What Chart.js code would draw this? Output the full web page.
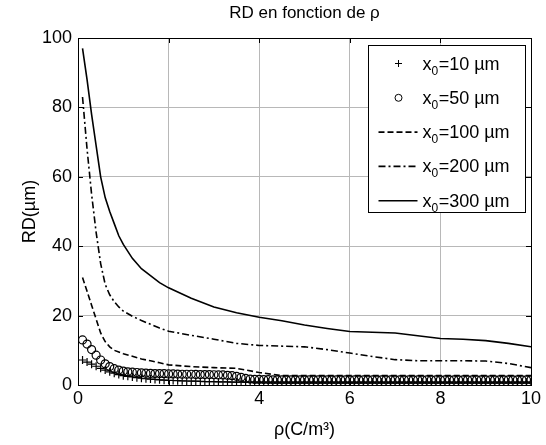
<!DOCTYPE html>
<html>
<head>
<meta charset="utf-8">
<script src="https://cdn.jsdelivr.net/npm/chart.js@4.4.1/dist/chart.umd.min.js"></script>
<style>
  html, body { margin: 0; padding: 0; background: #fff; }
  #wrap { width: 546px; height: 445px; }
</style>
</head>
<body>
<div id="wrap"><canvas id="graph" width="546" height="445"></canvas></div>
<script>
// rho values (C/m^3)
const rho = [0.1,0.2,0.3,0.4,0.5,0.6,0.7,0.8,0.9,1.0,
  1.1,1.2,1.3,1.4,1.5,1.6,1.7,1.8,1.9,2.0,
  2.1,2.2,2.3,2.4,2.5,2.6,2.7,2.8,2.9,3.0,
  3.1,3.2,3.3,3.4,3.5,3.6,3.7,3.8,3.9,4.0,
  4.1,4.2,4.3,4.4,4.5,4.6,4.7,4.8,4.9,5.0,
  5.1,5.2,5.3,5.4,5.5,5.6,5.7,5.8,5.9,6.0,
  6.1,6.2,6.3,6.4,6.5,6.6,6.7,6.8,6.9,7.0,
  7.1,7.2,7.3,7.4,7.5,7.6,7.7,7.8,7.9,8.0,
  8.1,8.2,8.3,8.4,8.5,8.6,8.7,8.8,8.9,9.0,
  9.1,9.2,9.3,9.4,9.5,9.6,9.7,9.8,9.9,10.0];

// x0 = 10 um (+)
const rd10 = [7.2,6.6,6.0,5.4,4.8,4.3,3.8,3.4,3.0,2.7,
  2.5,2.3,2.1,1.95,1.8,1.7,1.6,1.5,1.4,1.35,
  1.3,1.25,1.2,1.15,1.1,1.1,1.05,1.0,1.0,0.95,
  0.9,0.9,0.9,0.85,0.85,0.85,0.8,0.8,0.8,0.8,
  0.8,0.8,0.8,0.8,0.8,0.8,0.8,0.8,0.8,0.8,
  0.8,0.8,0.8,0.8,0.8,0.8,0.8,0.8,0.8,0.8,
  0.8,0.8,0.8,0.8,0.8,0.8,0.8,0.8,0.8,0.8,
  0.8,0.8,0.8,0.8,0.8,0.8,0.8,0.8,0.8,0.8,
  0.8,0.8,0.8,0.8,0.8,0.8,0.8,0.8,0.8,0.8,
  0.8,0.8,0.8,0.8,0.8,0.8,0.8,0.8,0.8,0.8];

// x0 = 50 um (o)
const rd50 = [13.0,11.8,10.2,8.6,7.2,6.1,5.3,4.7,4.3,4.0,
  3.8,3.7,3.6,3.5,3.4,3.35,3.3,3.3,3.25,3.2,
  3.2,3.15,3.1,3.1,3.1,3.05,3.0,3.0,3.0,2.95,
  2.9,2.9,2.8,2.7,2.5,2.2,1.9,1.7,1.6,1.6,
  1.55,1.55,1.5,1.5,1.5,1.5,1.5,1.5,1.5,1.5,
  1.5,1.5,1.5,1.5,1.5,1.5,1.5,1.5,1.5,1.5,
  1.5,1.5,1.5,1.5,1.5,1.5,1.5,1.5,1.5,1.5,
  1.5,1.5,1.5,1.5,1.5,1.5,1.5,1.5,1.5,1.5,
  1.5,1.5,1.5,1.5,1.5,1.5,1.5,1.5,1.5,1.5,
  1.5,1.5,1.5,1.5,1.5,1.5,1.5,1.5,1.5,1.5];

// coarser rho for the line series
const rhoLine = [0.1,0.2,0.3,0.4,0.5,0.6,0.7,0.8,0.9,1,1.2,1.4,1.6,1.8,2,2.5,3,3.5,4,4.5,5,5.5,6,6.5,7,7.5,8,8.5,9,9.5,10];
const rd100 = [31,27,23,19,15,12.5,11,10,9.5,9,8.3,7.5,7,6.4,5.8,5.3,5,4.8,3.6,2.7,2.7,2.7,2.7,2.7,2.7,2.7,2.7,2.7,2.7,2.7,2.7];
const rd200 = [83,68,55,44,35,29,26,24,22.5,21.3,19.8,18.6,17.5,16.4,15.5,14.3,13.2,12,11.4,11.2,11,10.2,9.2,8.2,7.3,7,7,7,6.9,6.2,5];
const rd300 = [97,88,78,69,60,54,50,46.5,43,40.5,36.5,33.5,31.5,29.5,28,25,22.5,20.8,19.5,18.5,17.3,16.3,15.4,15.2,15,14.2,13.4,13.2,12.8,12,11];

const seriesLabels = ['=10 µm', '=50 µm', '=100 µm', '=200 µm', '=300 µm'];
const xTicks = [0, 2, 4, 6, 8, 10];
const yTicks = [0, 20, 40, 60, 80, 100];

const FONT = '"Liberation Sans", Arial, sans-serif';

function pts(xs, ys) { return xs.map((x, i) => ({x: x, y: ys[i]})); }

const datasets = [
  { label: seriesLabels[0], data: pts(rho, rd10), showLine: false, pointStyle: 'cross',
    pointRadius: 4, borderColor: '#000', borderWidth: 1.2, order: 4 },
  { label: seriesLabels[1], data: pts(rho, rd50), showLine: false, pointStyle: 'circle',
    pointRadius: 4, borderColor: '#000', backgroundColor: 'rgba(0,0,0,0)', borderWidth: 1.2, order: 3 },
  { label: seriesLabels[2], data: pts(rhoLine, rd100), borderColor: '#000', borderWidth: 1.6,
    borderDash: [6, 3], pointRadius: 0, order: 2 },
  { label: seriesLabels[3], data: pts(rhoLine, rd200), borderColor: '#000', borderWidth: 1.6,
    borderDash: [7, 3, 2, 3], pointRadius: 0, order: 1 },
  { label: seriesLabels[4], data: pts(rhoLine, rd300), borderColor: '#000', borderWidth: 1.6,
    pointRadius: 0, order: 0 }
];

// title, axes box, inward ticks and the boxed legend, MATLAB style
const matlabLook = {
  id: 'matlabLook',
  afterDraw(chart) {
    const ctx = chart.ctx;
    const ca = chart.chartArea;
    const xs = chart.scales.x, ys = chart.scales.y;
    ctx.save();
    ctx.fillStyle = '#000';
    ctx.font = '17px ' + FONT;
    ctx.textAlign = 'center';
    ctx.textBaseline = 'middle';
    ctx.fillText('RD en fonction de ρ', (ca.left + ca.right) / 2, 13);

    ctx.strokeStyle = '#000';
    ctx.lineWidth = 1;
    ctx.setLineDash([]);
    ctx.beginPath();
    xTicks.forEach(v => {
      const px = Math.round(xs.getPixelForValue(v)) + 0.5;
      ctx.moveTo(px, ca.bottom); ctx.lineTo(px, ca.bottom - 5);
      ctx.moveTo(px, ca.top); ctx.lineTo(px, ca.top + 5);
    });
    yTicks.forEach(v => {
      const py = Math.round(ys.getPixelForValue(v)) + 0.5;
      ctx.moveTo(ca.left, py); ctx.lineTo(ca.left + 5, py);
      ctx.moveTo(ca.right, py); ctx.lineTo(ca.right - 5, py);
    });
    ctx.stroke();
    ctx.strokeRect(Math.round(ca.left) + 0.5, Math.round(ca.top) + 0.5,
      Math.round(ca.right - ca.left), Math.round(ca.bottom - ca.top));

    // legend
    const lx = Math.round(ca.right) - 163 + 0.5, ly = Math.round(ca.top) + 7 + 0.5;
    const lw = 157, lh = 167;
    ctx.fillStyle = '#fff';
    ctx.fillRect(lx, ly, lw, lh);
    ctx.strokeRect(lx, ly, lw, lh);
    chart.data.datasets.forEach((ds, i) => {
      const cy = ly + 18 + i * 34.3;
      ctx.strokeStyle = '#000';
      ctx.lineWidth = ds.showLine === false ? 1 : 1.6;
      if (ds.showLine === false) {
        ctx.setLineDash([]);
        ctx.beginPath();
        if (ds.pointStyle === 'cross') {
          ctx.moveTo(lx + 30 - 3.5, cy); ctx.lineTo(lx + 30 + 3.5, cy);
          ctx.moveTo(lx + 30, cy - 3.5); ctx.lineTo(lx + 30, cy + 3.5);
        } else {
          ctx.arc(lx + 30, cy, 3.5, 0, Math.PI * 2);
        }
        ctx.stroke();
      } else {
        ctx.setLineDash(ds.borderDash || []);
        ctx.beginPath();
        ctx.moveTo(lx + 10, cy); ctx.lineTo(lx + 49, cy);
        ctx.stroke();
      }
      ctx.setLineDash([]);
      ctx.fillStyle = '#000';
      ctx.textAlign = 'left';
      ctx.textBaseline = 'alphabetic';
      ctx.font = '18px ' + FONT;
      let tx = lx + 54;
      ctx.fillText('x', tx, cy + 6);
      tx += ctx.measureText('x').width;
      ctx.font = '12px ' + FONT;
      ctx.fillText('0', tx, cy + 11);
      tx += ctx.measureText('0').width + 0.5;
      ctx.font = '18px ' + FONT;
      ctx.fillText(ds.label, tx, cy + 6);
    });
    ctx.restore();
  }
};

const config = {
  type: 'line',
  data: { datasets: datasets },
  options: {
    responsive: false,
    animation: false,
    devicePixelRatio: 1,
    layout: { padding: { top: 38, right: 15, left: 0, bottom: 0 } },
    plugins: { legend: { display: false }, title: { display: false }, tooltip: { enabled: false } },
    scales: {
      x: {
        type: 'linear', min: 0, max: 10,
        afterFit: s => { s.height = 60; },
        afterBuildTicks: s => { s.ticks = xTicks.map(v => ({value: v})); },
        ticks: { color: '#000', font: { family: FONT, size: 18 }, padding: 3, maxRotation: 0 },
        grid: { color: '#b8b8b8', lineWidth: 1, drawTicks: false },
        border: { display: false },
        title: { display: true, text: 'ρ(C/m³)', color: '#000', font: { family: FONT, size: 18 },
          padding: { top: 0, bottom: 4 } }
      },
      y: {
        min: 0, max: 100,
        afterFit: s => { s.width = 78; },
        afterBuildTicks: s => { s.ticks = yTicks.map(v => ({value: v})); },
        ticks: { color: '#000', font: { family: FONT, size: 18 }, padding: 6 },
        grid: { color: '#b8b8b8', lineWidth: 1, drawTicks: false },
        border: { display: false },
        title: { display: true, text: 'RD(µm)', color: '#000', font: { family: FONT, size: 18 },
          padding: { top: 19, bottom: 0 } }
      }
    }
  },
  plugins: [matlabLook]
};

new Chart(document.getElementById('graph'), config);
</script>
</body>
</html>
